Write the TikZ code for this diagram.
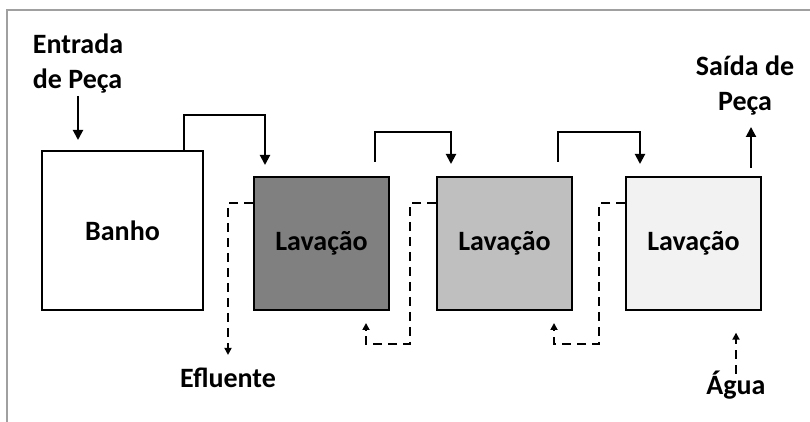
\documentclass[tikz,border=0pt]{standalone}
\usepackage{fontspec}
\setmainfont{Carlito}
\usetikzlibrary{positioning,calc,arrows.meta}

\definecolor{lavdark}{HTML}{808080}
\definecolor{lavmid}{HTML}{BFBFBF}
\definecolor{lavlight}{HTML}{F2F2F2}
\definecolor{framegray}{HTML}{A0A0A0}

\begin{document}
\begin{tikzpicture}[x=1pt,y=1pt,
    tank/.style={draw,line width=2pt,inner sep=0pt,font=\fontsize{28}{34}\selectfont\bfseries},
    rinse/.style={tank,minimum width=135pt,minimum height=133pt},
    lbl/.style={inner sep=0pt,align=center,font=\fontsize{28}{35}\selectfont\bfseries},
    flow/.style={line width=2pt,-{Triangle[length=10pt,width=10pt]}},
    back/.style={line width=2pt,dash pattern=on 9pt off 6pt,-{Triangle[length=7pt,width=7pt]}}]
        \useasboundingbox (0,0) rectangle (810,422);
        \draw[framegray,line width=2pt] (7,0) -- (7,412) -- (810,412);

        \node[tank,minimum width=161pt,minimum height=159pt] (banho) at (122.5,191.5) {Banho};
        \node[rinse,fill=lavdark] (l1) [above right=0pt and 49pt of banho.south east] {Lavação};
        \node[rinse,fill=lavmid] (l2) [above right=0pt and 46pt of l1.south east] {Lavação};
        \node[rinse,fill=lavlight] (l3) [above right=0pt and 52pt of l2.south east] {Lavação};

        \node[lbl,align=left] (entrada) at (78,358) {Entrada\\de Peça};
        \node[lbl] (saida) at (745,336) {Saída de\\Peça};
        \node[lbl] (eflu) at (228,44) {Efluente};
        \node[lbl] (agua) at (736,37) {Água};

        \draw[flow] ([yshift=-2pt]entrada.south) -- ([yshift=10pt]entrada.south |- banho.north);
        \draw[flow] ([xshift=-20pt]banho.north east) -- ++(0,35) -| ([xshift=12pt,yshift=11pt]l1.north west);
        \foreach \a/\b in {l1/l2,l2/l3}{
            \draw[flow] ([xshift=-15pt,yshift=14pt]\a.north east) -- ++(0,30) -| ([xshift=15pt,yshift=12pt]\b.north west);
        }
        \draw[flow] ([xshift=-11pt,yshift=8pt]l3.north east) -- ++(0,41);

        \draw[back] ([yshift=-27pt]l1.north west) -| ([yshift=13pt]eflu.north);
        \foreach \a/\b/\d in {l2/l1/24,l3/l2/19}{
            \draw[back] ([yshift=-27pt]\a.north west) -| ++(-26,-141) -| ([xshift=-\d pt,yshift=-12pt]\b.south east);
        }
        \draw[back] ([yshift=-3pt]agua.north) -- ++(0,41);
\end{tikzpicture}
\end{document}
